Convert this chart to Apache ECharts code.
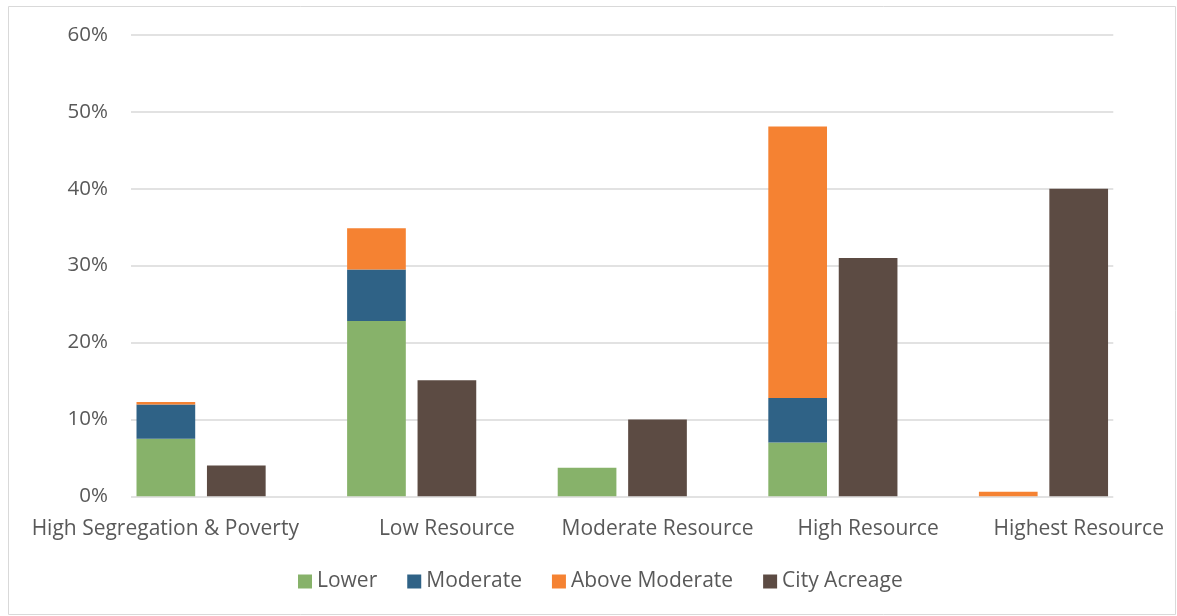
<!DOCTYPE html>
<html>
<head>
<meta charset="utf-8">
<script src="https://cdn.jsdelivr.net/npm/echarts@6/dist/echarts.min.js"></script>
<style>
  html, body { margin: 0; padding: 0; background: #ffffff; }
  #chart { width: 1177px; height: 616px; }
</style>
</head>
<body>
<div id="chart"></div>
<script>
// Share of units by resource area (percent), plus city acreage share
const categories = ['High Segregation & Poverty', 'Low Resource', 'Moderate Resource', 'High Resource', 'Highest Resource'];
const lower = [7.5, 22.8, 3.7, 7.0, 0];
const moderate = [4.45, 6.7, 0, 5.8, 0];
const aboveModerate = [0.3, 5.35, 0, 35.3, 0.6];
const cityAcreage = [4.0, 15.1, 10.0, 31.0, 40.0];
const yTicks = { min: 0, max: 60, interval: 10 };

const FONT = 'Open Sans';
const TEXT = '#595959';
const PLOT_TOP = 35;
const PLOT_H = 461.3;
const BAR_W = 58.7;

const chart = echarts.init(document.getElementById('chart'), null, { renderer: 'canvas' });

chart.setOption({
  backgroundColor: '#ffffff',
  animation: false,
  textStyle: { fontFamily: FONT },
  graphic: [{
    type: 'rect',
    shape: { x: 8.5, y: 6.5, width: 1167, height: 608 },
    style: { fill: 'none', stroke: '#d9d9d9', lineWidth: 1 },
    silent: true,
    z: -10
  }],
  legend: {
    left: 293,
    top: 566,
    itemWidth: 14,
    itemHeight: 14,
    itemGap: 30,
    icon: 'rect',
    data: ['Lower', 'Moderate', 'Above Moderate', 'City Acreage'],
    textStyle: { color: TEXT, fontSize: 21, fontFamily: FONT }
  },
  grid: [
    // value scale and gridlines
    { left: 131, top: PLOT_TOP, width: 982.3, height: PLOT_H, outerBoundsMode: 'none', containLabel: false },
    // category bands for the bars
    { left: 131, top: PLOT_TOP, width: 1053, height: PLOT_H, outerBoundsMode: 'none', containLabel: false }
  ],
  xAxis: [
    { type: 'category', gridIndex: 0, data: categories, show: false },
    {
      type: 'category',
      gridIndex: 1,
      data: categories.map((c, i) => i === 0
        ? { value: c, textStyle: { padding: [0, 142, 0, 0] } }
        : c),
      axisLine: { show: false },
      axisTick: { show: false },
      axisLabel: { interval: 0, color: TEXT, fontSize: 21, fontFamily: FONT, margin: 22 }
    }
  ],
  yAxis: [
    {
      type: 'value',
      gridIndex: 0,
      min: yTicks.min,
      max: yTicks.max,
      interval: yTicks.interval,
      axisLine: { show: false },
      axisTick: { show: false },
      axisLabel: { formatter: '{value}%', color: TEXT, fontSize: 20.5, fontFamily: FONT, margin: 23 },
      splitLine: { lineStyle: { color: '#d9d9d9', width: 1.5 } }
    },
    {
      type: 'value',
      gridIndex: 1,
      min: yTicks.min,
      max: yTicks.max,
      interval: yTicks.interval,
      show: false,
      splitLine: { show: false }
    }
  ],
  series: [
    {
      name: 'Lower', type: 'bar', stack: 'units', xAxisIndex: 1, yAxisIndex: 1,
      barWidth: BAR_W, barGap: '20%', data: lower,
      itemStyle: { color: '#87b26a' }
    },
    {
      name: 'Moderate', type: 'bar', stack: 'units', xAxisIndex: 1, yAxisIndex: 1,
      barWidth: BAR_W, barGap: '20%', data: moderate,
      itemStyle: { color: '#2f6286' }
    },
    {
      name: 'Above Moderate', type: 'bar', stack: 'units', xAxisIndex: 1, yAxisIndex: 1,
      barWidth: BAR_W, barGap: '20%', data: aboveModerate,
      itemStyle: { color: '#f58232' }
    },
    {
      name: 'City Acreage', type: 'bar', xAxisIndex: 1, yAxisIndex: 1,
      barWidth: BAR_W, barGap: '20%', data: cityAcreage,
      itemStyle: { color: '#5c4b43' }
    },
    {
      // empty third slot in each category band
      name: 'spacer', type: 'bar', xAxisIndex: 1, yAxisIndex: 1,
      barWidth: BAR_W, barGap: '20%', data: categories.map(() => null),
      silent: true
    }
  ]
});
</script>
</body>
</html>
